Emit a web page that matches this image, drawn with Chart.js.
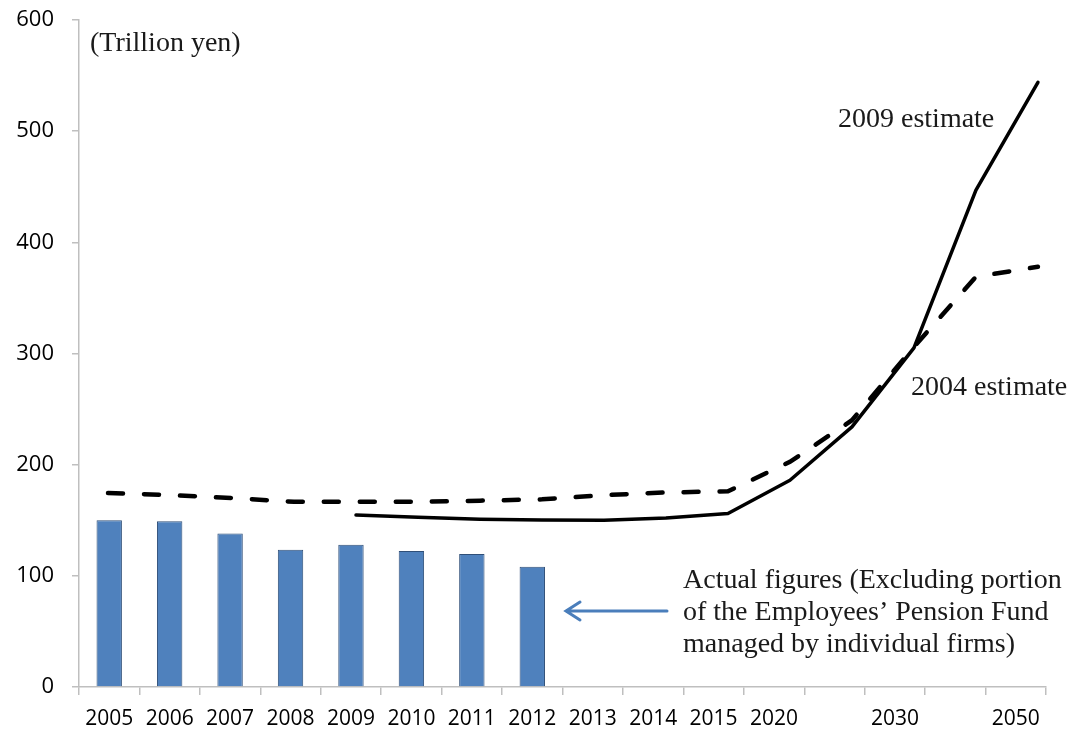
<!DOCTYPE html>
<html>
<head>
<meta charset="utf-8">
<script src="https://cdn.jsdelivr.net/npm/chart.js@4"></script>
<style>
  html, body { margin: 0; padding: 0; background: #fff; }
  #wrap { width: 1075px; height: 733px; position: relative; }
</style>
</head>
<body>
<div id="wrap"><canvas id="c"></canvas></div>
<script>
// categories on the x axis (two unlabelled slots, as in the source)
var categories = ['2005','2006','2007','2008','2009','2010','2011','2012','2013','2014','2015','2020','','2030','','2050'];

// actual figures, trillion yen (2005-2012)
var actualVals = [150, 149, 138, 123.5, 128, 122.3, 119.6, 108.2];

// projections, one point per category slot
var est2004 = [174.5, 172.7, 170, 166.6, 166.6, 166.6, 167.6, 168.8, 172.6, 175, 176, 202.6, 240, 306, 369, 378];
var est2009 = [null, null, null, null, 154.7, 152.6, 151, 150.2, 150, 152, 156, 186, 234, 305, 447, 544];

var yTicks = [0, 100, 200, 300, 400, 500, 600];

function toPoints(arr) {
  var out = [];
  arr.forEach(function(v, i) { if (v != null) out.push({ x: i, y: v }); });
  return out;
}

var barData = categories.map(function(_, i) { return i < actualVals.length ? actualVals[i] : null; });

var AXIS = '#bfbfbf';
var SERIF = '"Liberation Serif", "DejaVu Serif", serif';

// 注記・矢印
var notes = {
  id: 'notes',
  afterDraw: function(chart) {
    var ctx = chart.ctx;
    ctx.save();
    ctx.fillStyle = '#1a1a1a';
    ctx.textBaseline = 'middle';
    ctx.textAlign = 'left';
    ctx.font = '28px ' + SERIF;
    ctx.fillText('(Trillion yen)', 90, 44);
    ctx.fillText('2009 estimate', 838, 120);
    ctx.fillText('2004 estimate', 911, 388);
    ctx.fillText('Actual figures (Excluding portion', 683, 581);
    ctx.fillText('of the Employees\u2019 Pension Fund', 683, 613);
    ctx.fillText('managed by individual firms)', 683, 645);

    // arrow
    ctx.strokeStyle = '#4a7ebb';
    ctx.lineWidth = 3;
    ctx.lineCap = 'round';
    ctx.beginPath();
    ctx.moveTo(667, 611);
    ctx.lineTo(566, 611);
    ctx.moveTo(580, 602);
    ctx.lineTo(566, 611);
    ctx.lineTo(580, 620);
    ctx.stroke();
    ctx.restore();
  }
};

new Chart(document.getElementById('c'), {
  type: 'bar',
  data: {
    labels: categories,
    datasets: [
      {
        label: 'Actual figures',
        data: barData,
        xAxisID: 'x',
        backgroundColor: '#4f81bd',
        borderColor: '#2f4f78',
        borderWidth: 1,
        grouped: false,
        categoryPercentage: 1,
        barPercentage: 0.42,
        order: 2
      },
      {
        type: 'line',
        label: '2004 estimate',
        data: toPoints(est2004),
        xAxisID: 'xl',
        borderColor: '#000',
        borderWidth: 4.5,
        borderDash: [15, 21],
        borderCapStyle: 'round',
        pointRadius: 0,
        tension: 0,
        fill: false,
        order: 1
      },
      {
        type: 'line',
        label: '2009 estimate',
        data: toPoints(est2009),
        xAxisID: 'xl',
        borderColor: '#000',
        borderWidth: 3.5,
        borderCapStyle: 'round',
        borderJoinStyle: 'round',
        pointRadius: 0,
        tension: 0,
        fill: false,
        order: 0
      }
    ]
  },
  options: {
    responsive: true,
    maintainAspectRatio: false,
    animation: false,
    layout: { padding: { left: 0, top: 20, right: 29, bottom: 0 } },
    plugins: {
      legend: { display: false },
      tooltip: { enabled: false }
    },
    scales: {
      x: {
        type: 'category',
        offset: true,
        grid: { offset: true, drawOnChartArea: false, drawTicks: true, tickLength: 8, color: AXIS, lineWidth: 1.5 },
        border: { color: AXIS, width: 1.5 },
        ticks: {
          color: '#000',
          font: { family: '"Open Sans", sans-serif', size: 21 },
          maxRotation: 0,
          autoSkip: false,
          padding: 11
        },
        afterFit: function(s) { s.height = 46; }
      },
      xl: {
        type: 'linear',
        display: false,
        offset: false,
        grid: { offset: false },
        min: -0.468,
        max: 15.13
      },
      y: {
        min: 0,
        max: 600,
        afterBuildTicks: function(s) { s.ticks = yTicks.map(function(v) { return { value: v }; }); },
        grid: { drawOnChartArea: false, drawTicks: true, tickLength: 7, color: AXIS, lineWidth: 1.5 },
        border: { color: AXIS, width: 1.5 },
        ticks: {
          color: '#000',
          font: { family: '"Open Sans", sans-serif', size: 22 },
          padding: 18
        },
        afterFit: function(s) { s.width = 79; s.paddingTop = 0; s.paddingBottom = 0; }
      }
    }
  },
  plugins: [notes]
});
</script>
</body>
</html>
